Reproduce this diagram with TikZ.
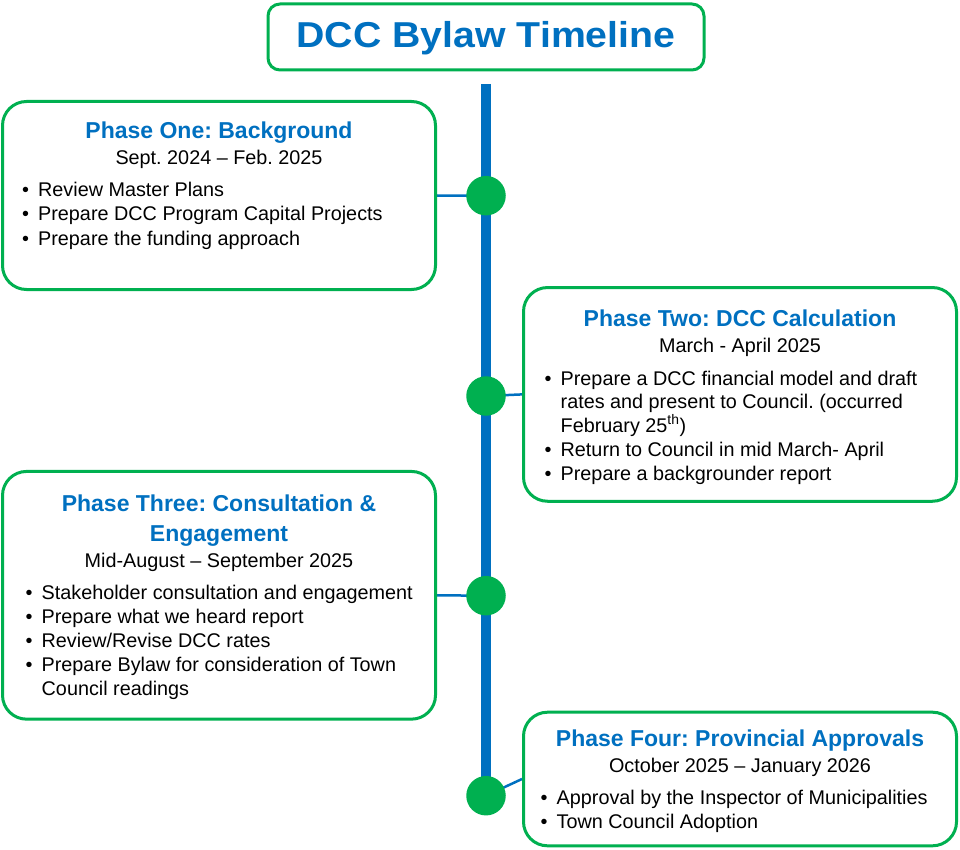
\documentclass[tikz,border=0pt]{standalone}
\usepackage{fontspec}
\setmainfont{Liberation Sans}
\usetikzlibrary{backgrounds}
\definecolor{tlblue}{HTML}{0070C0}
\definecolor{tlgreen}{HTML}{00B050}
\frenchspacing
\tikzset{
  phasebox/.style={draw=tlgreen, line width=3pt, rounded corners=24pt, fill=white, inner sep=0pt},
  titlebox/.style={draw=tlgreen, line width=3pt, rounded corners=12pt, fill=white, inner sep=0pt},
  dot/.style={circle, fill=tlgreen, minimum size=39.5pt, inner sep=0pt},
  spine/.style={draw=tlblue, line width=10pt},
  link/.style={draw=tlblue, line width=2.5pt},
  maintitle/.style={anchor=base, inner sep=0pt, text=tlblue, font=\fontsize{36}{40}\selectfont\bfseries},
  ptitle/.style={anchor=base, inner sep=0pt, text=tlblue, font=\fontsize{23}{27}\selectfont\bfseries},
  pdate/.style={anchor=base, inner sep=0pt, font=\fontsize{19.8}{24}\selectfont},
  pitem/.style={anchor=base west, inner sep=0pt, font=\fontsize{19.8}{24}\selectfont},
}
\newcommand{\bl}{\makebox[16pt][l]{•}}
\newcommand{\ind}{\hspace*{16pt}}
\begin{document}
\begin{tikzpicture}[x=1pt, y=-1pt]
\useasboundingbox (0,0) rectangle (960,850);

% title
\node[titlebox, minimum width=436pt, minimum height=66pt] (tb) at (486,37) {};
\node[maintitle] (tt) at (486,48) {\scalebox{1.09}[1]{DCC Bylaw Timeline}};

% timeline dots
\coordinate (top) at (486,84);
\node[dot] (c1) at (486,195.7) {};
\node[dot] (c2) at (486,396) {};
\node[dot] (c3) at (486,595.7) {};
\node[dot] (c4) at (486,795.7) {};

% Phase One
\node[phasebox, minimum width=433pt, minimum height=188pt] (b1) at (219,195.5) {};
\node[ptitle] (b1t) at (219,139) {Phase One: Background};
\node[pdate] (b1d) at (219,165) {Sept. 2024 – Feb. 2025};
\node[pitem] (b1i1) at (22,196.7) {\bl Review Master Plans};
\node[pitem] (b1i2) at (22,220.7) {\bl Prepare DCC Program Capital Projects};
\node[pitem] (b1i3) at (22,245) {\bl Prepare the funding approach};

% Phase Two
\node[phasebox, minimum width=433pt, minimum height=213.7pt] (b2) at (740,394.4) {};
\node[ptitle] (b2t) at (740,326) {Phase Two: DCC Calculation};
\node[pdate] (b2d) at (740,352.7) {March - April 2025};
\node[pitem] (b2i1) at (544.5,385) {\bl Prepare a DCC financial model and draft};
\node[pitem] (b2i2) at (544.5,408.7) {\ind rates and present to Council. (occurred};
\node[pitem] (b2i3) at (544.5,432.5) {\ind February 25\textsuperscript{th})};
\node[pitem] (b2i4) at (544.5,456.5) {\bl Return to Council in mid March- April};
\node[pitem] (b2i5) at (544.5,480) {\bl Prepare a backgrounder report};

% Phase Three
\node[phasebox, minimum width=433pt, minimum height=247.7pt] (b3) at (219,595.3) {};
\node[ptitle] (b3t1) at (219,511.7) {Phase Three: Consultation \&};
\node[ptitle] (b3t2) at (219,541) {Engagement};
\node[pdate] (b3d) at (219,567.3) {Mid-August – September 2025};
\node[pitem] (b3i1) at (25.5,599.3) {\bl Stakeholder consultation and engagement};
\node[pitem] (b3i2) at (25.5,623.3) {\bl Prepare what we heard report};
\node[pitem] (b3i3) at (25.5,647.5) {\bl Review/Revise DCC rates};
\node[pitem] (b3i4) at (25.5,671.5) {\bl Prepare Bylaw for consideration of Town};
\node[pitem] (b3i5) at (25.5,695.3) {\ind Council readings};

% Phase Four
\node[phasebox, minimum width=433pt, minimum height=133.6pt] (b4) at (740,779) {};
\node[ptitle] (b4t) at (740,746) {Phase Four: Provincial Approvals};
\node[pdate] (b4d) at (740,772.7) {October 2025 – January 2026};
\node[pitem] (b4i1) at (540.5,804.3) {\bl Approval by the Inspector of Municipalities};
\node[pitem] (b4i2) at (540.5,828.3) {\bl Town Council Adoption};

% spine and links behind
\begin{scope}[on background layer]
  \draw[spine] (top) -- (c4.center);
  \draw[link] (b1.east) -- (c1.center);
  \draw[link] (c2.center) -- (b2.west);
  \draw[link] (b3.east) -- (c3.center);
  \draw[link] (c4.center) -- (b4.west);
\end{scope}
\end{tikzpicture}
\end{document}
